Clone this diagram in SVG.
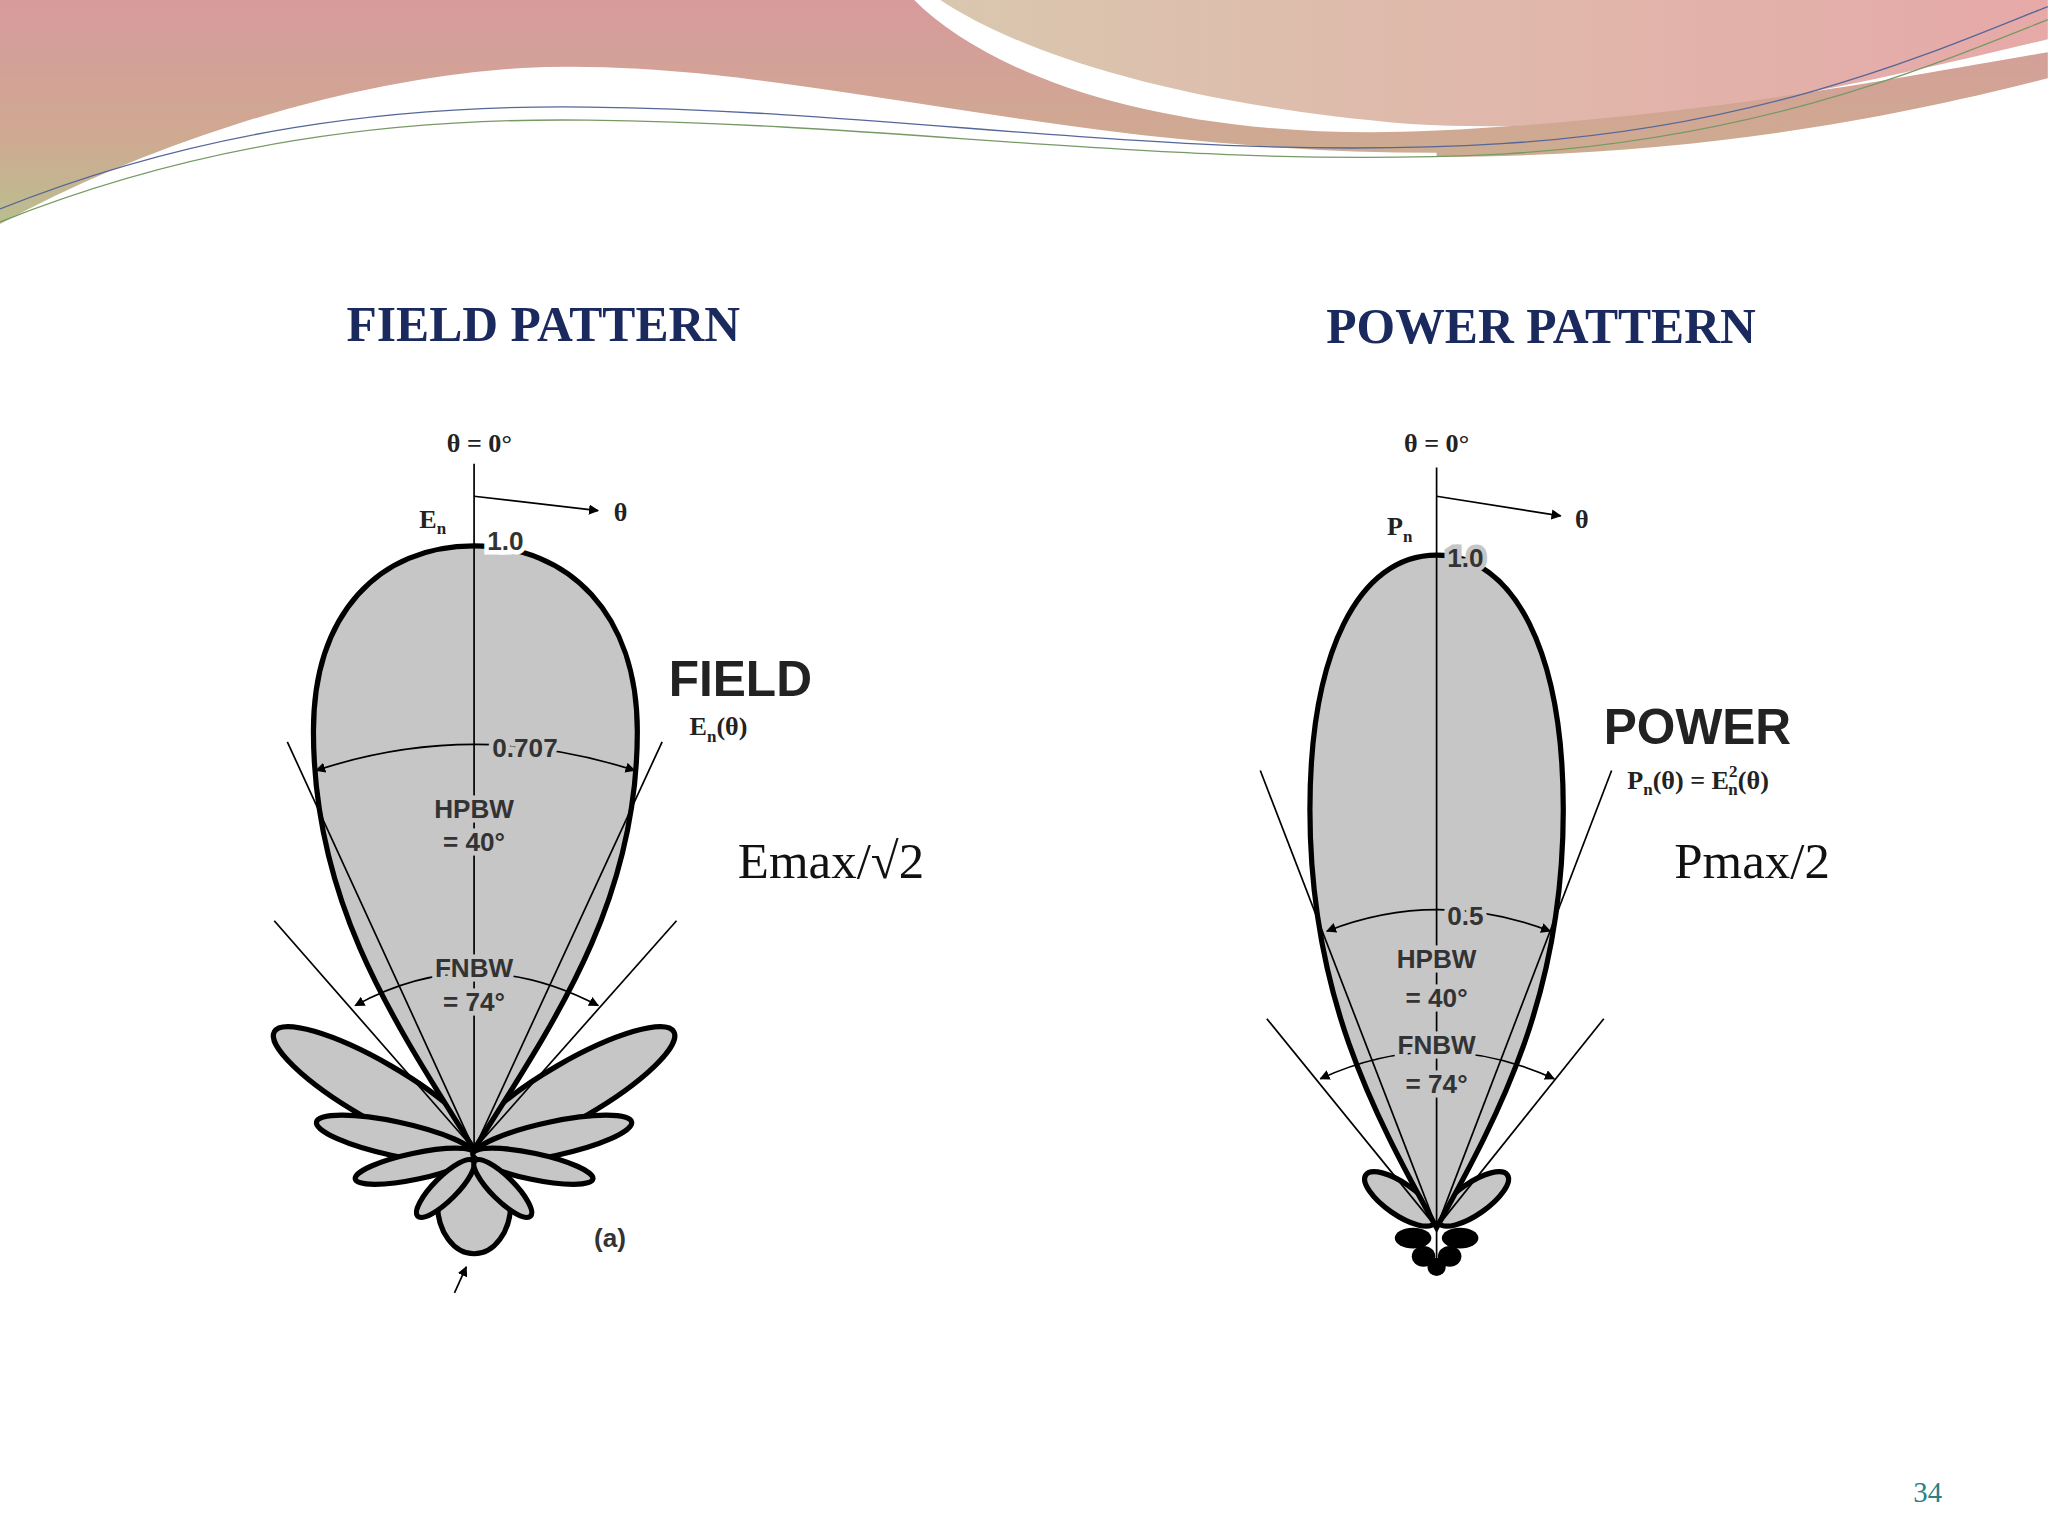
<svg xmlns="http://www.w3.org/2000/svg" width="2048" height="1536" viewBox="0 0 2048 1536">
<defs>
<linearGradient id="gtop" x1="0" y1="0" x2="0" y2="1"><stop offset="0" stop-color="#d79a9c"/><stop offset="0.6" stop-color="#cfa992"/><stop offset="1" stop-color="#b9c08e"/></linearGradient>
<linearGradient id="gright" x1="0" y1="0" x2="1" y2="0"><stop offset="0" stop-color="#cfe0b4"/><stop offset="1" stop-color="#e6a9a8"/></linearGradient>
<marker id="ah" viewBox="0 0 10 10" refX="9" refY="5" markerWidth="6" markerHeight="6" orient="auto-start-reverse"><path d="M0,0 L10,5 L0,10 z" fill="#000"/></marker>
</defs>
<style>
.lobe{fill:#c6c6c6;stroke:#000;stroke-width:4}
.thin{fill:none;stroke:#000;stroke-width:1.3}
.lab{font-family:"Liberation Sans",Arial,sans-serif;font-weight:bold;font-size:20px;fill:#333;text-anchor:middle;stroke:#c6c6c6;stroke-width:7px;paint-order:stroke}
.ser{font-family:"Liberation Serif",serif;font-weight:bold;font-size:20px;fill:#222}
.title{font-family:"Liberation Serif",serif;font-weight:bold;font-size:38px;fill:#1b2a5e}
.big{font-family:"Liberation Sans",Arial,sans-serif;font-weight:bold;font-size:38px;fill:#222}
.note{font-family:"Liberation Serif",serif;font-size:39px;fill:#111}
</style>
<rect width="2048" height="1536" fill="#fff"/>
<g transform="scale(1.306)">
<g id="background">
<path d="M0,0 H720 C780,40 900,80 1080,95 C1250,105 1400,70 1568,30 V0 Z" fill="url(#gright)"/>
<path d="M0,0 H700 C760,60 900,110 1100,100 C1300,90 1450,60 1568,40 V60 C1450,90 1300,120 1100,120 C800,120 600,45 400,55 C250,65 100,120 0,175 Z" fill="url(#gtop)"/>
<path d="M0,175 C100,120 250,65 400,55 C600,45 800,120 1100,120" fill="none" stroke="#fff" stroke-width="6"/>
<path d="M0,160 C150,100 300,80 450,82 C700,85 900,125 1150,110 C1350,98 1480,40 1568,5" fill="none" stroke="#556699" stroke-width="1"/>
<path d="M0,170 C150,110 300,90 450,92 C700,95 900,130 1150,118 C1350,106 1480,50 1568,15" fill="none" stroke="#779966" stroke-width="1"/>
</g>
<text class="title" x="416" y="261" text-anchor="middle">FIELD PATTERN</text>
<text class="title" x="1180" y="263" text-anchor="middle">POWER PATTERN</text>

<g id="field">
<g transform="translate(363,880)">
<ellipse class="lobe" cx="0" cy="42" rx="28" ry="38" stroke-width="3"/>
<ellipse class="lobe" cx="-75" cy="-45" rx="90" ry="22" transform="rotate(30,-75,-45)" stroke-width="3"/>
<ellipse class="lobe" cx="75" cy="-45" rx="90" ry="22" transform="rotate(-30,75,-45)" stroke-width="3"/>
<ellipse class="lobe" cx="-60" cy="-8" rx="62" ry="13" transform="rotate(12,-60,-8)" stroke-width="3"/>
<ellipse class="lobe" cx="60" cy="-8" rx="62" ry="13" transform="rotate(-12,60,-8)" stroke-width="3"/>
<ellipse class="lobe" cx="-45" cy="13" rx="47" ry="10" transform="rotate(-12,-45,13)" stroke-width="3"/>
<ellipse class="lobe" cx="45" cy="13" rx="47" ry="10" transform="rotate(12,45,13)" stroke-width="3"/>
<ellipse class="lobe" cx="-22" cy="30" rx="30" ry="9" transform="rotate(-45,-22,30)" stroke-width="3"/>
<ellipse class="lobe" cx="22" cy="30" rx="30" ry="9" transform="rotate(45,22,30)" stroke-width="3"/>
</g>
<path class="lobe" d="M363,880 C300,780 240,690 240,560 C240,470 290,418 363,418 C436,418 488,470 488,560 C488,690 426,780 363,880 Z"/>
<line class="thin" x1="363" y1="355" x2="363" y2="880"/>
<line class="thin" x1="220" y1="568" x2="363" y2="880"/>
<line class="thin" x1="507" y1="568" x2="363" y2="880"/>
<line class="thin" x1="210" y1="705" x2="363" y2="880"/>
<line class="thin" x1="518" y1="705" x2="363" y2="880"/>
<path class="thin" d="M242,590 Q363,550 486,590" marker-start="url(#ah)" marker-end="url(#ah)"/>
<path class="thin" d="M272,770 Q363,720 458,770" marker-start="url(#ah)" marker-end="url(#ah)"/>
<path class="thin" d="M363,380 L458,391" marker-end="url(#ah)"/>
<path class="thin" d="M348,990 L357,970" marker-end="url(#ah)"/>
<text class="ser" x="367" y="346" text-anchor="middle">θ = 0°</text>
<text class="ser" x="321" y="404">E<tspan font-size="13" dy="5">n</tspan></text>
<text class="lab" x="387" y="421" stroke="#fff" style="stroke:#fff">1.0</text>
<text class="ser" x="470" y="399">θ</text>
<text class="big" x="512" y="533">FIELD</text>
<text class="ser" x="528" y="563">E<tspan font-size="13" dy="5">n</tspan><tspan dy="-5">(θ)</tspan></text>
<text class="lab" x="402" y="580">0.707</text>
<text class="lab" x="363" y="626">HPBW</text>
<text class="lab" x="363" y="652">= 40°</text>
<text class="lab" x="363" y="748">FNBW</text>
<text class="lab" x="363" y="774">= 74°</text>
<text class="lab" x="467" y="955" style="stroke:none">(a)</text>
</g>
<text class="note" x="565" y="672">Emax/√2</text>

<g id="power">
<g transform="translate(1100,940)">
<ellipse class="lobe" cx="-28" cy="-22" rx="32" ry="12" transform="rotate(35,-28,-22)" stroke-width="3"/>
<ellipse class="lobe" cx="28" cy="-22" rx="32" ry="12" transform="rotate(-35,28,-22)" stroke-width="3"/>
<ellipse cx="-18" cy="8" rx="14" ry="8" fill="#000"/>
<ellipse cx="18" cy="8" rx="14" ry="8" fill="#000"/>
<ellipse cx="-10" cy="22" rx="9" ry="8" fill="#000"/>
<ellipse cx="10" cy="22" rx="9" ry="8" fill="#000"/>
<ellipse cx="0" cy="30" rx="7" ry="7" fill="#000"/>
</g>
<path class="lobe" d="M1100,940 C1050,850 1003,760 1003,620 C1003,500 1040,425 1100,425 C1160,425 1197,500 1197,620 C1197,760 1150,850 1100,940 Z"/>
<line class="thin" x1="1100" y1="358" x2="1100" y2="975"/>
<line class="thin" x1="965" y1="590" x2="1100" y2="940"/>
<line class="thin" x1="1234" y1="590" x2="1100" y2="940"/>
<line class="thin" x1="970" y1="780" x2="1100" y2="940"/>
<line class="thin" x1="1228" y1="780" x2="1100" y2="940"/>
<path class="thin" d="M1016,713 Q1100,680 1187,713" marker-start="url(#ah)" marker-end="url(#ah)"/>
<path class="thin" d="M1011,826 Q1100,785 1190,826" marker-start="url(#ah)" marker-end="url(#ah)"/>
<path class="thin" d="M1100,380 L1195,395" marker-end="url(#ah)"/>
<text class="ser" x="1100" y="346" text-anchor="middle">θ = 0°</text>
<text class="ser" x="1062" y="410">P<tspan font-size="13" dy="5">n</tspan></text>
<text class="lab" x="1122" y="434">1.0</text>
<text class="ser" x="1206" y="404">θ</text>
<text class="big" x="1228" y="570">POWER</text>
<text class="ser" x="1246" y="604">P<tspan font-size="13" dy="5">n</tspan><tspan dy="-5">(θ) = E</tspan><tspan font-size="13" dy="-9">2</tspan><tspan font-size="13" dx="-7" dy="14">n</tspan><tspan dy="-5">(θ)</tspan></text>
<text class="lab" x="1122" y="708">0.5</text>
<text class="lab" x="1100" y="741">HPBW</text>
<text class="lab" x="1100" y="771">= 40°</text>
<text class="lab" x="1100" y="807">FNBW</text>
<text class="lab" x="1100" y="837">= 74°</text>
</g>
<text class="note" x="1282" y="672">Pmax/2</text>
<text x="1476" y="1150" font-family="Liberation Serif,serif" font-size="22" fill="#2a7f86" text-anchor="middle">34</text>
</g>
</svg>
